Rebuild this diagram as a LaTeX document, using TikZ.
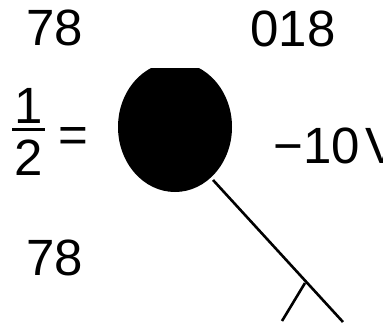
\documentclass[tikz,border=0pt]{standalone}
\usepackage{fontspec}
\setmainfont{Liberation Sans}
\begin{document}
\begin{tikzpicture}[x=1pt,y=-1pt,line width=2.6pt,
  every node/.style={font=\fontsize{51}{51}\selectfont,inner sep=0pt,anchor=base west}]
\useasboundingbox (0,0) rectangle (383,327);
\clip (0,0) rectangle (383,327);
\coordinate (C) at (175,127); \coordinate (S) at (213,180); \coordinate (F) at (305,283);
\coordinate (E) at (343,322); \coordinate (B) at (282,321);
\begin{scope} \clip (0,68) rectangle (383,327); \fill (C) ellipse [x radius=57, y radius=65]; \end{scope}
\draw (S)--(E); \draw (F)--(B);
\node (topL) at (25,45) {78}; \node (topR) at (249,46) {018}; \node (botL) at (25,275) {78};
\node[anchor=base] (num) at (29,123) {1}; \node[anchor=base] (den) at (29,175) {2};
\draw[line width=3pt] (12,129)--(45,129);
\node (eq) at (57,152) {=};
\node (volt) at (272,163) {−10\kern6pt V};
\end{tikzpicture}
\end{document}
